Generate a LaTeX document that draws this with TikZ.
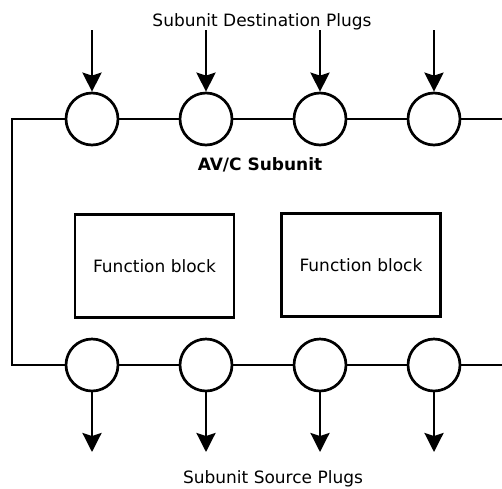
\documentclass[tikz,border=0pt]{standalone}
\usepackage{fontspec}
\setmainfont{DejaVu Sans}
\usetikzlibrary{arrows.meta}
\begin{document}
\begin{tikzpicture}[x=1pt,y=-1pt,
  plug/.style={circle,draw,line width=2.7pt,minimum size=52pt,inner sep=0pt,fill=white},
  fblock/.style={draw,line width=2.7pt,minimum width=159pt,minimum height=103pt,inner sep=0pt,font=\fontsize{17}{20}\selectfont},
  wire/.style={line width=2.7pt},
  arr/.style={line width=2.7pt,-{Stealth[length=19pt,width=19pt,inset=3pt]}},
  lbl/.style={font=\fontsize{17}{20}\selectfont,inner sep=0pt}]
\useasboundingbox (0,0) rectangle (502,488);
\foreach \i/\x in {1/92,2/206,3/320,4/434}{
  \node[plug] (t\i) at (\x,119) {};
  \node[plug] (b\i) at (\x,365) {};
  \coordinate (ta\i) at (\x,30);
  \coordinate (ba\i) at (\x,452);
}
\coordinate (tl) at (12,119);
\coordinate (bl) at (12,365);
\coordinate (tr) at (503,119);
\coordinate (br) at (503,365);
\draw[wire] (t1.west) -- (tl) -- (bl) -- (b1.west);
\draw[wire] (t1) -- (t2);
\draw[wire] (t2) -- (t3);
\draw[wire] (t3) -- (t4);
\draw[wire] (t4) -- (tr);
\draw[wire] (b1) -- (b2);
\draw[wire] (b2) -- (b3);
\draw[wire] (b3) -- (b4);
\draw[wire] (b4) -- (br);
\foreach \i in {1,2,3,4}{
  \draw[arr] (ta\i) -- (t\i);
  \draw[arr] (b\i) -- (ba\i);
}
\node[lbl] (dst) at (262,22) {Subunit Destination Plugs};
\node[lbl] (src) at (273,479) {Subunit Source Plugs};
\node[lbl,font=\fontsize{17}{20}\selectfont\bfseries] (sub) at (260,165) {AV/C Subunit};
\node[fblock] (f1) at (154.5,266) {Function block};
\node[fblock] (f2) at (361,265) {Function block};
\end{tikzpicture}
\end{document}
